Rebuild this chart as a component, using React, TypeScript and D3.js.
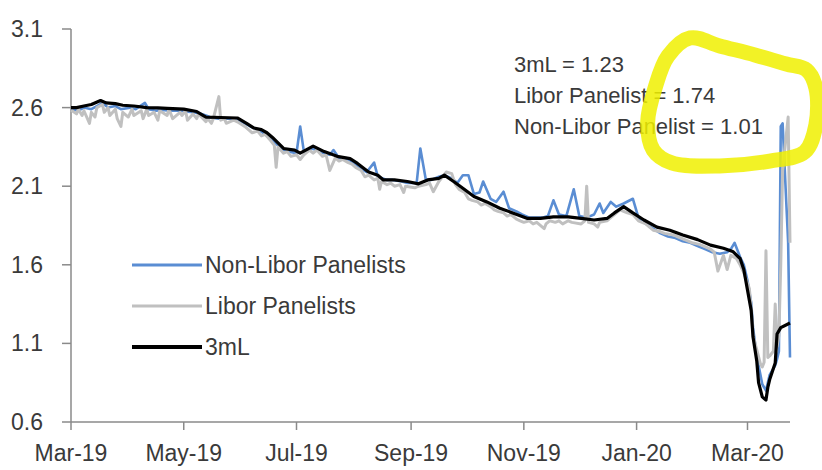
import React from "react";
import * as d3 from "d3";

const W = 822;
const H = 470;
const START = "2019-03-01";
const END = "2020-03-24";
const yTicks = [0.6, 1.1, 1.6, 2.1, 2.6, 3.1];
const legendLabels = ["Non-Libor Panelists", "Libor Panelists", "3mL"];
const annotationLines = ["3mL = 1.23", "Libor Panelist = 1.74", "Non-Libor Panelist = 1.01"];

const series3mL: [string, number][] = [
  ["2019-03-01", 2.6], ["2019-03-04", 2.6], ["2019-03-08", 2.61], ["2019-03-12", 2.62], ["2019-03-17", 2.645],
  ["2019-03-20", 2.63], ["2019-03-25", 2.625], ["2019-03-29", 2.615], ["2019-04-04", 2.61], ["2019-04-11", 2.6],
  ["2019-04-17", 2.598], ["2019-04-22", 2.595], ["2019-05-01", 2.59], ["2019-05-08", 2.575], ["2019-05-13", 2.54],
  ["2019-05-21", 2.537], ["2019-05-30", 2.534], ["2019-06-04", 2.5], ["2019-06-08", 2.47], ["2019-06-12", 2.46],
  ["2019-06-15", 2.44], ["2019-06-18", 2.41], ["2019-06-21", 2.375], ["2019-06-24", 2.34], ["2019-06-30", 2.33],
  ["2019-07-03", 2.31], ["2019-07-10", 2.355], ["2019-07-16", 2.32], ["2019-07-23", 2.29], ["2019-07-30", 2.275],
  ["2019-08-03", 2.245], ["2019-08-09", 2.19], ["2019-08-14", 2.17], ["2019-08-17", 2.14], ["2019-08-23", 2.14],
  ["2019-08-30", 2.13], ["2019-09-05", 2.115], ["2019-09-10", 2.14], ["2019-09-16", 2.15], ["2019-09-19", 2.17],
  ["2019-09-24", 2.13], ["2019-09-29", 2.087], ["2019-10-05", 2.035], ["2019-10-12", 2.0], ["2019-10-19", 1.96],
  ["2019-10-26", 1.93], ["2019-11-03", 1.895], ["2019-11-10", 1.895], ["2019-11-17", 1.905], ["2019-11-25", 1.905],
  ["2019-12-02", 1.895], ["2019-12-09", 1.885], ["2019-12-16", 1.895], ["2019-12-20", 1.93], ["2019-12-25", 1.97],
  ["2019-12-30", 1.93], ["2020-01-05", 1.885], ["2020-01-12", 1.84], ["2020-01-19", 1.82], ["2020-01-26", 1.79],
  ["2020-02-03", 1.76], ["2020-02-10", 1.725], ["2020-02-17", 1.705], ["2020-02-22", 1.685], ["2020-02-26", 1.64],
  ["2020-02-28", 1.57], ["2020-03-01", 1.44], ["2020-03-03", 1.31], ["2020-03-04", 1.14], ["2020-03-06", 0.99],
  ["2020-03-07", 0.85], ["2020-03-09", 0.76], ["2020-03-11", 0.74], ["2020-03-12", 0.82], ["2020-03-13", 0.87],
  ["2020-03-16", 0.975], ["2020-03-17", 1.16], ["2020-03-19", 1.2], ["2020-03-24", 1.23],
];

const seriesLibor: [string, number][] = [
  ["2019-03-01", 2.585], ["2019-03-04", 2.56], ["2019-03-05", 2.59], ["2019-03-07", 2.55], ["2019-03-08", 2.58],
  ["2019-03-11", 2.5], ["2019-03-12", 2.57], ["2019-03-14", 2.54], ["2019-03-15", 2.6], ["2019-03-18", 2.62],
  ["2019-03-19", 2.57], ["2019-03-21", 2.6], ["2019-03-22", 2.55], ["2019-03-25", 2.59], ["2019-03-26", 2.53],
  ["2019-03-28", 2.48], ["2019-03-29", 2.57], ["2019-04-01", 2.54], ["2019-04-03", 2.59], ["2019-04-04", 2.55],
  ["2019-04-08", 2.58], ["2019-04-09", 2.53], ["2019-04-11", 2.59], ["2019-04-12", 2.55], ["2019-04-15", 2.57],
  ["2019-04-17", 2.52], ["2019-04-18", 2.58], ["2019-04-22", 2.55], ["2019-04-23", 2.59], ["2019-04-25", 2.53],
  ["2019-04-29", 2.57], ["2019-04-30", 2.55], ["2019-05-02", 2.58], ["2019-05-03", 2.52], ["2019-05-06", 2.56],
  ["2019-05-08", 2.53], ["2019-05-09", 2.56], ["2019-05-13", 2.51], ["2019-05-14", 2.53], ["2019-05-16", 2.5],
  ["2019-05-17", 2.53], ["2019-05-20", 2.67], ["2019-05-21", 2.52], ["2019-05-23", 2.53], ["2019-05-24", 2.5],
  ["2019-05-28", 2.52], ["2019-05-30", 2.51], ["2019-06-03", 2.48], ["2019-06-05", 2.46], ["2019-06-07", 2.44],
  ["2019-06-10", 2.45], ["2019-06-12", 2.42], ["2019-06-14", 2.43], ["2019-06-17", 2.39], ["2019-06-19", 2.36],
  ["2019-06-20", 2.22], ["2019-06-21", 2.35], ["2019-06-24", 2.31], ["2019-06-26", 2.32], ["2019-06-28", 2.29],
  ["2019-07-01", 2.3], ["2019-07-03", 2.27], ["2019-07-05", 2.3], ["2019-07-08", 2.33], ["2019-07-10", 2.31],
  ["2019-07-12", 2.33], ["2019-07-15", 2.29], ["2019-07-17", 2.3], ["2019-07-19", 2.2], ["2019-07-22", 2.28],
  ["2019-07-24", 2.26], ["2019-07-26", 2.27], ["2019-07-29", 2.25], ["2019-07-31", 2.24], ["2019-08-02", 2.22],
  ["2019-08-05", 2.2], ["2019-08-07", 2.16], ["2019-08-09", 2.17], ["2019-08-12", 2.14], ["2019-08-14", 2.15],
  ["2019-08-15", 2.08], ["2019-08-16", 2.13], ["2019-08-19", 2.11], ["2019-08-21", 2.12], ["2019-08-23", 2.1],
  ["2019-08-26", 2.11], ["2019-08-28", 2.06], ["2019-08-29", 2.1], ["2019-09-03", 2.09], ["2019-09-05", 2.1],
  ["2019-09-09", 2.11], ["2019-09-11", 2.12], ["2019-09-13", 2.065], ["2019-09-16", 2.13], ["2019-09-18", 2.16],
  ["2019-09-20", 2.19], ["2019-09-23", 2.18], ["2019-09-25", 2.11], ["2019-09-27", 2.08], ["2019-09-30", 2.06],
  ["2019-10-02", 2.02], ["2019-10-04", 2.01], ["2019-10-07", 2.0], ["2019-10-09", 1.98], ["2019-10-11", 1.99],
  ["2019-10-14", 1.97], ["2019-10-16", 1.95], ["2019-10-18", 1.94], ["2019-10-21", 1.93], ["2019-10-23", 1.91],
  ["2019-10-25", 1.92], ["2019-10-28", 1.89], ["2019-10-30", 1.88], ["2019-11-01", 1.87], ["2019-11-04", 1.88],
  ["2019-11-06", 1.86], ["2019-11-08", 1.87], ["2019-11-12", 1.83], ["2019-11-13", 1.86], ["2019-11-15", 1.88],
  ["2019-11-18", 1.87], ["2019-11-20", 1.88], ["2019-11-22", 1.86], ["2019-11-25", 1.88], ["2019-11-27", 1.87],
  ["2019-12-02", 1.86], ["2019-12-04", 1.88], ["2019-12-05", 2.1], ["2019-12-06", 1.87], ["2019-12-09", 1.86],
  ["2019-12-11", 1.84], ["2019-12-12", 1.87], ["2019-12-16", 1.88], ["2019-12-18", 1.9], ["2019-12-20", 1.92],
  ["2019-12-23", 1.95], ["2019-12-27", 1.93], ["2019-12-30", 1.92], ["2020-01-02", 1.88], ["2020-01-06", 1.86],
  ["2020-01-08", 1.84], ["2020-01-10", 1.82], ["2020-01-14", 1.81], ["2020-01-16", 1.8], ["2020-01-21", 1.79],
  ["2020-01-23", 1.78], ["2020-01-27", 1.76], ["2020-01-29", 1.75], ["2020-01-31", 1.74], ["2020-02-04", 1.73],
  ["2020-02-06", 1.72], ["2020-02-10", 1.7], ["2020-02-12", 1.68], ["2020-02-14", 1.56], ["2020-02-17", 1.66],
  ["2020-02-19", 1.57], ["2020-02-21", 1.66], ["2020-02-24", 1.64], ["2020-02-26", 1.6], ["2020-02-28", 1.55],
  ["2020-03-02", 1.45], ["2020-03-03", 1.32], ["2020-03-04", 1.15], ["2020-03-06", 1.06], ["2020-03-08", 0.97],
  ["2020-03-09", 0.95], ["2020-03-10", 0.98], ["2020-03-11", 1.69], ["2020-03-12", 1.01], ["2020-03-13", 1.02],
  ["2020-03-15", 1.05], ["2020-03-16", 1.35], ["2020-03-17", 1.08], ["2020-03-18", 1.15], ["2020-03-19", 1.6],
  ["2020-03-20", 2.2], ["2020-03-23", 2.54], ["2020-03-24", 1.74],
];

const seriesNonLibor: [string, number][] = [
  ["2019-03-01", 2.59], ["2019-03-05", 2.58], ["2019-03-08", 2.6], ["2019-03-12", 2.59], ["2019-03-15", 2.61],
  ["2019-03-18", 2.63], ["2019-03-21", 2.6], ["2019-03-25", 2.61], ["2019-03-28", 2.59], ["2019-04-02", 2.6],
  ["2019-04-05", 2.59], ["2019-04-10", 2.63], ["2019-04-12", 2.59], ["2019-04-16", 2.58], ["2019-04-19", 2.585],
  ["2019-04-24", 2.58], ["2019-04-29", 2.58], ["2019-05-02", 2.575], ["2019-05-06", 2.57], ["2019-05-09", 2.565],
  ["2019-05-13", 2.55], ["2019-05-16", 2.535], ["2019-05-20", 2.53], ["2019-05-24", 2.53], ["2019-05-29", 2.53],
  ["2019-06-03", 2.5], ["2019-06-06", 2.48], ["2019-06-10", 2.46], ["2019-06-13", 2.44], ["2019-06-17", 2.4],
  ["2019-06-20", 2.37], ["2019-06-24", 2.33], ["2019-06-27", 2.32], ["2019-07-01", 2.31], ["2019-07-03", 2.48],
  ["2019-07-05", 2.32], ["2019-07-09", 2.34], ["2019-07-12", 2.33], ["2019-07-16", 2.31], ["2019-07-19", 2.3],
  ["2019-07-21", 2.33], ["2019-07-24", 2.28], ["2019-07-29", 2.27], ["2019-08-01", 2.25], ["2019-08-05", 2.21],
  ["2019-08-08", 2.19], ["2019-08-12", 2.25], ["2019-08-14", 2.16], ["2019-08-19", 2.14], ["2019-08-22", 2.14],
  ["2019-08-27", 2.13], ["2019-08-30", 2.12], ["2019-09-04", 2.12], ["2019-09-06", 2.34], ["2019-09-09", 2.14],
  ["2019-09-12", 2.14], ["2019-09-16", 2.16], ["2019-09-19", 2.17], ["2019-09-23", 2.15], ["2019-09-26", 2.12],
  ["2019-09-29", 2.17], ["2019-10-02", 2.17], ["2019-10-05", 2.05], ["2019-10-08", 2.06], ["2019-10-10", 2.13],
  ["2019-10-14", 2.02], ["2019-10-17", 2.0], ["2019-10-21", 2.065], ["2019-10-24", 1.96], ["2019-10-28", 1.94],
  ["2019-10-31", 1.92], ["2019-11-04", 1.9], ["2019-11-07", 1.9], ["2019-11-11", 1.9], ["2019-11-14", 1.91],
  ["2019-11-17", 2.01], ["2019-11-20", 1.92], ["2019-11-24", 1.91], ["2019-11-28", 2.08], ["2019-12-01", 1.91],
  ["2019-12-05", 1.9], ["2019-12-09", 1.92], ["2019-12-12", 1.99], ["2019-12-14", 1.93], ["2019-12-18", 2.0],
  ["2019-12-21", 1.97], ["2019-12-25", 1.99], ["2019-12-30", 2.02], ["2020-01-02", 1.9], ["2020-01-06", 1.86],
  ["2020-01-10", 1.83], ["2020-01-14", 1.8], ["2020-01-18", 1.78], ["2020-01-22", 1.77], ["2020-01-26", 1.75],
  ["2020-01-30", 1.74], ["2020-02-03", 1.72], ["2020-02-07", 1.7], ["2020-02-11", 1.68], ["2020-02-15", 1.67],
  ["2020-02-19", 1.68], ["2020-02-21", 1.7], ["2020-02-23", 1.74], ["2020-02-26", 1.65], ["2020-02-28", 1.6],
  ["2020-03-01", 1.5], ["2020-03-03", 1.36], ["2020-03-04", 1.2], ["2020-03-06", 1.02], ["2020-03-08", 0.9],
  ["2020-03-09", 0.84], ["2020-03-11", 0.8], ["2020-03-12", 0.85], ["2020-03-13", 0.9], ["2020-03-16", 0.96],
  ["2020-03-17", 1.0], ["2020-03-18", 1.05], ["2020-03-19", 2.48], ["2020-03-20", 2.5], ["2020-03-23", 1.74],
  ["2020-03-24", 1.01],
];

// hand-drawn highlight loop, in data units (days from START, value)
const highlightDays = [335, 323, 316, 312, 315, 325, 351, 378, 397, 403, 403, 398, 387, 370, 351];
const highlightValues = [3.043, 2.928, 2.725, 2.508, 2.33, 2.248, 2.229, 2.26, 2.318, 2.489, 2.725, 2.839, 2.877, 2.935, 2.992];

const parse = d3.timeParse("%Y-%m-%d");
const FONT = "'Liberation Sans', Arial, Helvetica, sans-serif";
const TEXT = "#3a3a3a";
const BLUE = "#5a8dd3";
const GREY = "#c0c0c0";
const AXIS = "#8a8a8a";

export default function App() {
  const x = d3.scaleTime().domain([parse(START)!, parse(END)!]).range([71, 790]);
  const y = d3.scaleLinear().domain([0.6, 3.1]).range([422, 29]);

  const line = d3
    .line<[string, number]>()
    .x((d) => x(parse(d[0])!))
    .y((d) => y(d[1]));

  const xTicks = d3.timeMonth.every(2)!.range(parse(START)!, parse(END)!);
  const fmtX = d3.timeFormat("%b-%y");

  const start = parse(START)!;
  const hlPts: [number, number][] = highlightDays.map((d, i) => [
    x(d3.timeDay.offset(start, d)),
    y(highlightValues[i]),
  ]);
  const hlPath = d3.line().curve(d3.curveCatmullRomClosed.alpha(0.5))(hlPts) || "";

  const legendColors = [BLUE, GREY, "#000"];
  const legendWidths = [3, 3, 4];
  const legendY = [265, 306, 347];

  return (
    <svg
      width={W}
      height={H}
      style={{ position: "absolute", left: 0, top: 0, background: "#fff" }}
      fontFamily={FONT}
    >
      <rect width={W} height={H} fill="#fff" />
      {/* axes */}
      <line x1={71} x2={71} y1={y(3.1)} y2={y(0.6)} stroke={AXIS} strokeWidth={1.5} />
      <line x1={71} x2={790} y1={y(0.6)} y2={y(0.6)} stroke={AXIS} strokeWidth={1.5} />
      {yTicks.map((t) => (
        <g key={t}>
          <line x1={62} x2={71} y1={y(t)} y2={y(t)} stroke={AXIS} strokeWidth={1.5} />
          <text x={43} y={y(t)} textAnchor="end" dominantBaseline="central" fontSize={23} fill={TEXT}>
            {d3.format(".1f")(t)}
          </text>
        </g>
      ))}
      {xTicks.map((t) => (
        <g key={t.toISOString()}>
          <line x1={x(t)} x2={x(t)} y1={y(0.6)} y2={y(0.6) + 8} stroke={AXIS} strokeWidth={1.5} />
          <text x={x(t)} y={453} textAnchor="middle" dominantBaseline="central" fontSize={23} fill={TEXT}>
            {fmtX(t)}
          </text>
        </g>
      ))}

      {/* series */}
      <path d={line(seriesNonLibor) || ""} fill="none" stroke={BLUE} strokeWidth={2.6} strokeLinejoin="round" />
      <path d={line(seriesLibor) || ""} fill="none" stroke={GREY} strokeWidth={3} strokeLinejoin="round" />
      <path d={line(series3mL) || ""} fill="none" stroke="#000" strokeWidth={3.2} strokeLinejoin="round" />

      {/* legend */}
      {legendLabels.map((l, i) => (
        <g key={l}>
          <line x1={132} x2={202} y1={legendY[i]} y2={legendY[i]} stroke={legendColors[i]} strokeWidth={legendWidths[i]} />
          <text x={205} y={legendY[i]} dominantBaseline="central" fontSize={23} fill={TEXT}>
            {l}
          </text>
        </g>
      ))}

      {/* annotation */}
      {annotationLines.map((l, i) => (
        <text key={l} x={514} y={64 + i * 31} dominantBaseline="central" fontSize={22} fill={TEXT}>
          {l}
        </text>
      ))}
      <path
        d={hlPath}
        fill="none"
        stroke="#f0f000"
        strokeOpacity={0.85}
        strokeWidth={15}
        strokeLinecap="round"
        strokeLinejoin="round"
      />
    </svg>
  );
}
